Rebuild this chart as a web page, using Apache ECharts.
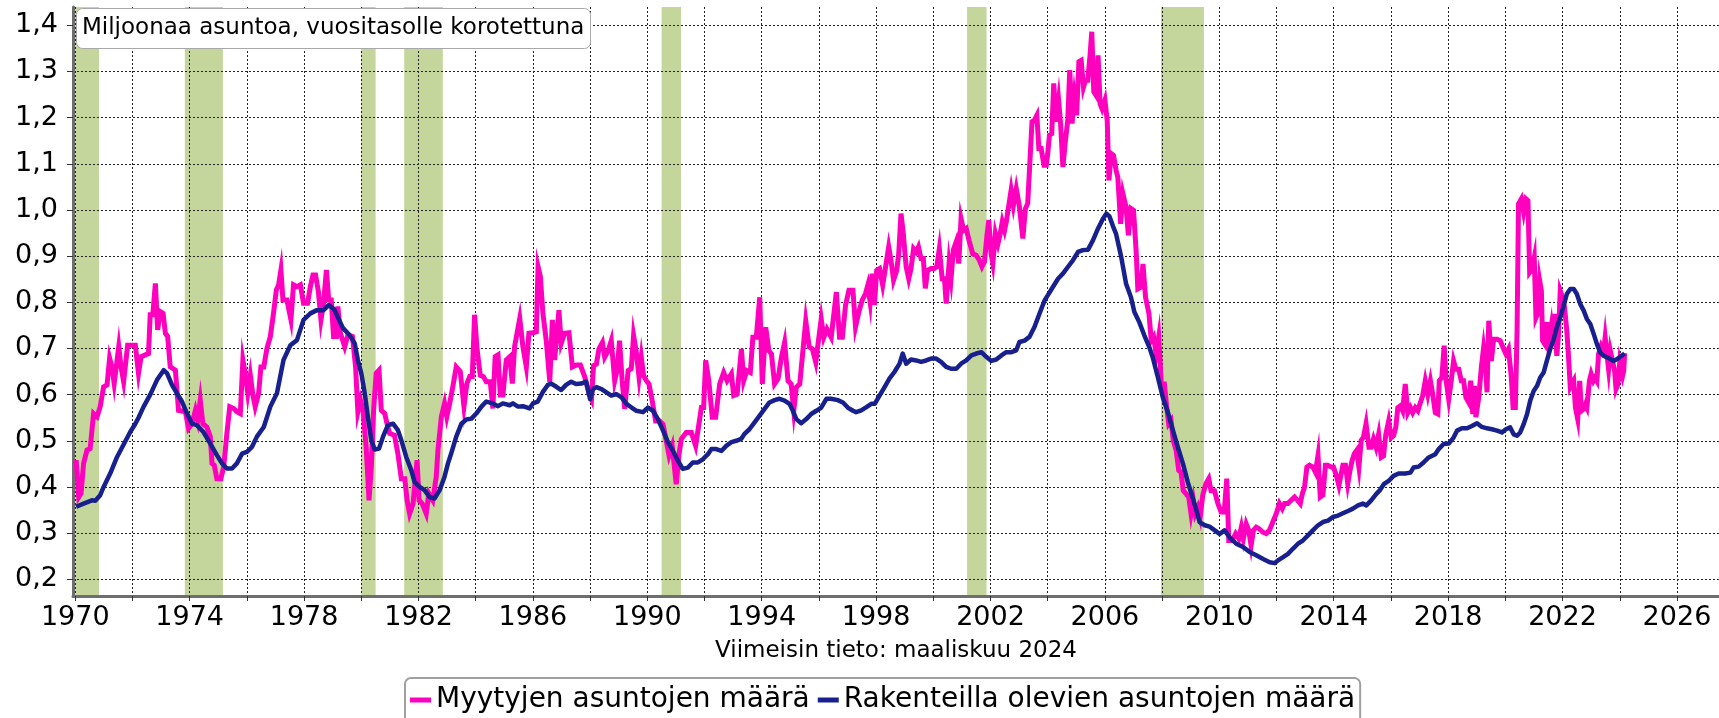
<!DOCTYPE html>
<html>
<head>
<meta charset="utf-8">
<script src="https://cdn.jsdelivr.net/npm/echarts@6/dist/echarts.min.js"></script>
<style>
html,body{margin:0;padding:0;background:#fff;}
#chart{width:1719px;height:718px;}
</style>
</head>
<body>
<div id="chart"></div>
<script>
// ---------- data ----------
const seriesNames = ['Myytyjen asuntojen määrä', 'Rakenteilla olevien asuntojen määrä'];
const titleText = 'Miljoonaa asuntoa, vuositasolle korotettuna';
const footText = 'Viimeisin tieto: maaliskuu 2024';

const yTickValues = [0.2, 0.3, 0.4, 0.5, 0.6, 0.7, 0.8, 0.9, 1.0, 1.1, 1.2, 1.3, 1.4];
const xTickYears = [1970, 1972, 1974, 1976, 1978, 1980, 1982, 1984, 1986, 1988, 1990, 1992, 1994, 1996, 1998,
  2000, 2002, 2004, 2006, 2008, 2010, 2012, 2014, 2016, 2018, 2020, 2022, 2024, 2026];
const xLabelYears = [1970, 1974, 1978, 1982, 1986, 1990, 1994, 1998, 2002, 2006, 2010, 2014, 2018, 2022, 2026];

const recessionStarts = [1970.0, 1973.83, 1980.0, 1981.5, 1990.5, 2001.18, 2007.96];
const recessionEnds   = [1970.83, 1975.16, 1980.5, 1982.85, 1991.18, 2001.86, 2009.46];

// Myytyjen asuntojen määrä (pink)
const salesYears = [
1970.03,1970.12,1970.20,1970.29,1970.41,1970.52,1970.64,1970.76,1970.87,1970.99,
1971.11,1971.20,1971.28,1971.36,1971.52,1971.60,1971.69,1971.83,1971.98,1972.10,
1972.21,1972.30,1972.45,1972.56,1972.62,1972.71,1972.80,1972.88,1972.97,1973.07,
1973.15,1973.23,1973.32,1973.50,1973.61,1973.85,1973.96,1974.08,1974.20,1974.28,
1974.37,1974.46,1974.60,1974.72,1974.78,1974.86,1974.95,1975.09,1975.19,1975.30,
1975.40,1975.54,1975.65,1975.77,1975.86,1975.94,1976.03,1976.12,1976.21,1976.29,
1976.41,1976.49,1976.59,1976.70,1976.82,1976.93,1977.03,1977.11,1977.19,1977.26,
1977.40,1977.54,1977.63,1977.75,1977.87,1977.98,1978.12,1978.22,1978.31,1978.40,
1978.50,1978.59,1978.68,1978.78,1978.86,1978.95,1979.03,1979.13,1979.18,1979.27,
1979.42,1979.53,1979.69,1979.80,1979.88,1979.97,1980.06,1980.17,1980.27,1980.35,
1980.43,1980.52,1980.62,1980.70,1980.82,1980.90,1980.99,1981.16,1981.28,1981.40,
1981.52,1981.60,1981.69,1981.81,1981.95,1982.02,1982.13,1982.27,1982.36,1982.50,
1982.62,1982.68,1982.80,1982.91,1982.99,1983.09,1983.20,1983.32,1983.46,1983.59,
1983.69,1983.79,1983.88,1983.96,1984.05,1984.16,1984.27,1984.37,1984.51,1984.60,
1984.68,1984.78,1984.86,1984.95,1985.07,1985.19,1985.28,1985.36,1985.54,1985.65,
1985.77,1985.86,1986.00,1986.12,1986.18,1986.26,1986.35,1986.47,1986.59,1986.68,
1986.76,1986.91,1986.99,1987.11,1987.26,1987.38,1987.52,1987.66,1987.81,1987.96,
1988.05,1988.12,1988.22,1988.31,1988.43,1988.51,1988.63,1988.74,1988.86,1988.94,
1989.03,1989.12,1989.21,1989.33,1989.44,1989.52,1989.61,1989.71,1989.79,1989.87,
1989.97,1990.06,1990.17,1990.29,1990.43,1990.55,1990.64,1990.76,1990.87,1991.01,
1991.11,1991.19,1991.36,1991.54,1991.69,1991.77,1991.89,1991.97,1992.04,1992.15,
1992.27,1992.39,1992.53,1992.67,1992.79,1992.94,1993.02,1993.14,1993.29,1993.37,
1993.48,1993.60,1993.69,1993.81,1993.93,1994.02,1994.14,1994.25,1994.34,1994.45,
1994.57,1994.69,1994.80,1994.92,1995.03,1995.12,1995.21,1995.33,1995.44,1995.54,
1995.66,1995.77,1995.89,1995.97,1996.08,1996.17,1996.28,1996.43,1996.61,1996.72,
1996.82,1996.93,1997.05,1997.19,1997.28,1997.40,1997.51,1997.63,1997.71,1997.79,
1997.86,1997.94,1998.02,1998.12,1998.23,1998.35,1998.44,1998.52,1998.61,1998.72,
1998.79,1998.87,1998.95,1999.05,1999.14,1999.22,1999.31,1999.40,1999.48,1999.57,
1999.65,1999.72,1999.80,1999.92,2000.03,2000.12,2000.21,2000.31,2000.39,2000.45,
2000.55,2000.62,2000.70,2000.80,2000.89,2000.97,2001.06,2001.15,2001.26,2001.38,
2001.50,2001.61,2001.70,2001.79,2001.87,2001.94,2002.02,2002.08,2002.17,2002.26,
2002.34,2002.41,2002.49,2002.55,2002.65,2002.72,2002.80,2002.90,2003.01,2003.13,
2003.22,2003.30,2003.38,2003.45,2003.53,2003.62,2003.69,2003.77,2003.87,2003.95,
2004.00,2004.06,2004.14,2004.21,2004.29,2004.38,2004.45,2004.53,2004.62,2004.70,
2004.77,2004.85,2004.93,2005.01,2005.09,2005.17,2005.25,2005.32,2005.40,2005.48,
2005.54,2005.61,2005.69,2005.76,2005.83,2005.90,2006.00,2006.08,2006.14,2006.22,
2006.30,2006.39,2006.45,2006.55,2006.63,2006.74,2006.82,2006.91,2007.00,2007.09,
2007.15,2007.27,2007.33,2007.42,2007.54,2007.62,2007.70,2007.79,2007.88,2007.97,
2008.08,2008.16,2008.23,2008.31,2008.39,2008.49,2008.58,2008.66,2008.74,2008.84,
2008.93,2009.01,2009.09,2009.16,2009.25,2009.33,2009.42,2009.53,2009.63,2009.71,
2009.83,2009.95,2010.06,2010.17,2010.26,2010.33,2010.45,2010.57,2010.68,2010.77,
2010.84,2010.94,2011.03,2011.11,2011.19,2011.29,2011.40,2011.52,2011.64,2011.75,
2011.87,2011.99,2012.10,2012.20,2012.28,2012.40,2012.51,2012.63,2012.74,2012.83,
2012.90,2012.98,2013.06,2013.15,2013.27,2013.36,2013.45,2013.53,2013.62,2013.71,
2013.79,2013.91,2013.99,2014.09,2014.18,2014.26,2014.32,2014.41,2014.49,2014.57,
2014.64,2014.72,2014.80,2014.88,2014.96,2015.04,2015.13,2015.23,2015.31,2015.39,
2015.48,2015.57,2015.66,2015.74,2015.82,2015.92,2016.01,2016.09,2016.17,2016.24,
2016.33,2016.41,2016.50,2016.59,2016.68,2016.76,2016.85,2016.94,2017.03,2017.11,
2017.20,2017.29,2017.38,2017.46,2017.55,2017.64,2017.69,2017.78,2017.86,2017.93,
2018.02,2018.10,2018.19,2018.27,2018.37,2018.46,2018.54,2018.62,2018.72,2018.79,
2018.86,2018.92,2018.97,2019.07,2019.16,2019.24,2019.30,2019.36,2019.42,2019.51,
2019.59,2019.71,2019.82,2019.94,2020.02,2020.11,2020.21,2020.27,2020.35,2020.41,
2020.46,2020.56,2020.64,2020.72,2020.79,2020.85,2020.93,2021.01,2021.07,2021.14,
2021.20,2021.26,2021.30,2021.37,2021.45,2021.51,2021.60,2021.65,2021.72,2021.80,
2021.86,2021.92,2022.00,2022.07,2022.15,2022.21,2022.27,2022.33,2022.39,2022.45,
2022.53,2022.60,2022.66,2022.74,2022.80,2022.85,2022.94,2023.00,2023.08,2023.14,
2023.20,2023.26,2023.35,2023.44,2023.49,2023.55,2023.61,2023.67,2023.73,2023.82,
2023.87,2023.94,2024.00,2024.06,2024.10,2024.14,2024.17
];
const salesValues = [
0.458,0.378,0.386,0.451,0.480,0.483,0.559,0.552,0.574,0.617,
0.621,0.679,0.660,0.624,0.704,0.660,0.628,0.707,0.707,0.707,
0.646,0.682,0.686,0.689,0.773,0.773,0.841,0.740,0.780,0.776,
0.733,0.726,0.660,0.653,0.566,0.563,0.527,0.537,0.566,0.545,
0.588,0.537,0.530,0.509,0.451,0.447,0.418,0.418,0.444,0.516,
0.574,0.570,0.563,0.559,0.675,0.646,0.603,0.642,0.599,0.574,
0.603,0.660,0.660,0.700,0.726,0.776,0.827,0.838,0.870,0.805,
0.805,0.762,0.838,0.834,0.838,0.798,0.798,0.834,0.859,0.859,
0.823,0.762,0.798,0.870,0.805,0.805,0.726,0.726,0.791,0.733,
0.704,0.729,0.726,0.660,0.563,0.588,0.566,0.487,0.371,0.444,
0.566,0.646,0.653,0.566,0.559,0.537,0.516,0.512,0.472,0.418,
0.418,0.371,0.342,0.364,0.458,0.371,0.364,0.342,0.386,0.371,
0.422,0.480,0.552,0.581,0.552,0.581,0.617,0.660,0.650,0.574,
0.624,0.639,0.639,0.773,0.697,0.642,0.639,0.628,0.628,0.570,
0.682,0.686,0.599,0.599,0.675,0.682,0.624,0.704,0.765,0.704,
0.660,0.733,0.734,0.736,0.877,0.856,0.776,0.715,0.628,0.762,
0.675,0.783,0.711,0.733,0.734,0.660,0.664,0.664,0.639,0.603,
0.590,0.663,0.666,0.699,0.713,0.681,0.695,0.717,0.630,0.652,
0.717,0.630,0.569,0.652,0.656,0.728,0.695,0.638,0.681,0.641,
0.630,0.623,0.587,0.543,0.543,0.536,0.507,0.468,0.489,0.406,
0.471,0.504,0.518,0.518,0.489,0.522,0.572,0.572,0.674,0.630,
0.551,0.551,0.623,0.648,0.630,0.645,0.598,0.601,0.699,0.630,
0.652,0.648,0.724,0.724,0.811,0.623,0.746,0.695,0.688,0.623,
0.634,0.681,0.713,0.630,0.623,0.565,0.616,0.623,0.695,0.760,
0.703,0.699,0.670,0.710,0.764,0.724,0.742,0.724,0.822,0.724,
0.724,0.793,0.826,0.826,0.747,0.780,0.804,0.819,0.837,0.801,
0.862,0.794,0.869,0.873,0.837,0.884,0.920,0.891,0.848,0.869,
0.905,0.992,0.949,0.877,0.851,0.873,0.916,0.909,0.920,0.895,
0.895,0.830,0.869,0.873,0.873,0.877,0.916,0.851,0.851,0.797,
0.884,0.851,0.913,0.931,0.884,0.981,0.956,0.960,0.931,0.905,
0.902,0.891,0.877,0.888,0.942,0.978,0.905,0.884,0.949,0.927,
0.949,0.974,0.956,0.974,1.014,1.043,1.010,1.046,1.007,0.938,
1.003,1.014,1.108,1.191,1.194,1.205,1.133,1.133,1.097,1.097,
1.122,1.162,1.165,1.274,1.191,1.238,1.187,1.093,1.151,1.194,
1.303,1.187,1.245,1.205,1.321,1.324,1.266,1.281,1.281,1.335,
1.386,1.256,1.248,1.335,1.230,1.219,1.238,1.194,1.064,1.122,
1.118,1.086,1.071,0.970,1.035,1.006,0.945,1.003,0.999,0.912,
0.829,0.833,0.883,0.811,0.775,0.717,0.725,0.688,0.725,0.623,
0.623,0.573,0.537,0.544,0.501,0.479,0.436,0.432,0.392,0.385,
0.378,0.342,0.371,0.342,0.356,0.335,0.382,0.407,0.418,0.392,
0.392,0.364,0.346,0.346,0.418,0.284,0.284,0.299,0.288,0.313,
0.288,0.320,0.306,0.273,0.306,0.313,0.309,0.302,0.299,0.306,
0.324,0.342,0.364,0.353,0.364,0.364,0.371,0.378,0.371,0.364,
0.385,0.400,0.443,0.447,0.443,0.432,0.468,0.378,0.382,0.447,
0.447,0.443,0.443,0.425,0.403,0.428,0.447,0.447,0.407,0.436,
0.457,0.472,0.479,0.443,0.501,0.508,0.537,0.486,0.486,0.504,
0.486,0.514,0.464,0.467,0.514,0.543,0.507,0.511,0.529,0.572,
0.576,0.565,0.623,0.561,0.572,0.561,0.572,0.565,0.583,0.598,
0.630,0.601,0.630,0.601,0.561,0.558,0.630,0.637,0.706,0.630,
0.590,0.626,0.673,0.655,0.655,0.630,0.630,0.594,0.583,0.630,
0.558,0.619,0.551,0.594,0.659,0.702,0.673,0.605,0.760,0.673,
0.720,0.720,0.717,0.699,0.688,0.699,0.637,0.572,0.572,0.738,
1.013,1.024,0.995,1.024,1.020,0.865,0.872,0.897,0.767,0.778,
0.847,0.825,0.717,0.710,0.757,0.710,0.746,0.710,0.775,0.684,
0.731,0.825,0.811,0.789,0.738,0.681,0.616,0.616,0.630,0.572,
0.547,0.630,0.565,0.569,0.579,0.572,0.630,0.645,0.630,0.637,
0.630,0.688,0.706,0.695,0.724,0.688,0.655,0.695,0.695,0.652,
0.612,0.623,0.670,0.670,0.641,0.652,0.690
];

// Rakenteilla olevien asuntojen määrä (navy)
const buildYears = [
1970.03,1970.29,1970.58,1970.70,1970.87,1970.99,1971.22,1971.46,1971.69,1971.92,
1972.10,1972.21,1972.39,1972.62,1972.86,1973.09,1973.21,1973.38,1973.55,1973.73,
1973.90,1974.08,1974.25,1974.48,1974.72,1974.95,1975.13,1975.30,1975.48,1975.65,
1975.83,1976.00,1976.18,1976.35,1976.59,1976.82,1977.05,1977.28,1977.52,1977.75,
1977.98,1978.22,1978.45,1978.68,1978.86,1979.05,1979.20,1979.36,1979.59,1979.77,
1979.88,1980.00,1980.12,1980.23,1980.35,1980.47,1980.62,1980.76,1980.93,1981.11,
1981.28,1981.40,1981.57,1981.75,1981.86,1982.04,1982.21,1982.39,1982.56,1982.74,
1982.91,1983.03,1983.14,1983.32,1983.50,1983.67,1983.85,1984.02,1984.20,1984.37,
1984.60,1984.78,1984.95,1985.19,1985.30,1985.48,1985.65,1985.88,1986.00,1986.17,
1986.35,1986.52,1986.64,1986.82,1986.99,1987.16,1987.34,1987.51,1987.69,1987.86,
1988.00,1988.10,1988.22,1988.40,1988.57,1988.74,1988.92,1989.10,1989.27,1989.45,
1989.62,1989.85,1990.02,1990.20,1990.37,1990.55,1990.72,1990.90,1991.07,1991.24,
1991.42,1991.59,1991.77,1991.94,1992.12,1992.24,1992.41,1992.59,1992.76,1992.94,
1993.11,1993.28,1993.40,1993.57,1993.75,1993.92,1994.10,1994.27,1994.45,1994.62,
1994.80,1994.97,1995.09,1995.21,1995.38,1995.56,1995.73,1995.91,1996.08,1996.26,
1996.43,1996.66,1996.84,1997.01,1997.19,1997.30,1997.48,1997.66,1997.83,1997.95,
1998.12,1998.30,1998.47,1998.64,1998.82,1998.93,1999.05,1999.22,1999.40,1999.57,
1999.75,1999.92,2000.10,2000.27,2000.45,2000.62,2000.80,2000.97,2001.15,2001.33,
2001.50,2001.68,2001.85,2002.03,2002.20,2002.38,2002.55,2002.73,2002.90,2003.01,
2003.19,2003.36,2003.54,2003.71,2003.89,2004.00,2004.18,2004.36,2004.53,2004.71,
2004.88,2005.06,2005.23,2005.41,2005.58,2005.76,2005.93,2006.05,2006.16,2006.28,
2006.39,2006.57,2006.74,2006.91,2007.03,2007.20,2007.38,2007.55,2007.67,2007.85,
2008.02,2008.20,2008.38,2008.55,2008.73,2008.90,2009.08,2009.20,2009.31,2009.49,
2009.66,2009.84,2010.01,2010.18,2010.36,2010.59,2010.83,2011.06,2011.29,2011.53,
2011.76,2011.94,2012.05,2012.23,2012.40,2012.57,2012.75,2012.92,2013.10,2013.27,
2013.45,2013.62,2013.80,2013.97,2014.15,2014.32,2014.50,2014.67,2014.85,2015.02,
2015.14,2015.31,2015.49,2015.60,2015.75,2015.92,2016.09,2016.27,2016.50,2016.68,
2016.79,2016.97,2017.14,2017.32,2017.55,2017.67,2017.84,2018.02,2018.19,2018.31,
2018.48,2018.66,2018.83,2019.01,2019.18,2019.36,2019.53,2019.71,2019.88,2020.02,
2020.17,2020.29,2020.41,2020.52,2020.64,2020.76,2020.87,2020.99,2021.11,2021.22,
2021.34,2021.45,2021.57,2021.69,2021.80,2021.92,2022.04,2022.15,2022.27,2022.39,
2022.50,2022.62,2022.74,2022.85,2022.97,2023.09,2023.20,2023.32,2023.44,2023.55,
2023.67,2023.79,2023.90,2024.02,2024.17
];
const buildValues = [
0.357,0.364,0.371,0.370,0.382,0.400,0.429,0.465,0.492,0.519,
0.537,0.550,0.574,0.600,0.632,0.653,0.646,0.621,0.603,0.585,
0.560,0.537,0.534,0.519,0.494,0.469,0.451,0.440,0.440,0.451,
0.472,0.476,0.487,0.509,0.530,0.574,0.603,0.675,0.707,0.718,
0.762,0.776,0.783,0.783,0.794,0.785,0.765,0.744,0.729,0.711,
0.675,0.646,0.603,0.552,0.501,0.481,0.483,0.509,0.534,0.537,
0.523,0.501,0.465,0.436,0.411,0.400,0.393,0.378,0.375,0.393,
0.422,0.451,0.472,0.509,0.537,0.546,0.548,0.559,0.574,0.585,
0.581,0.575,0.581,0.577,0.581,0.574,0.575,0.570,0.581,0.585,
0.606,0.621,0.624,0.617,0.610,0.621,0.628,0.623,0.624,0.628,
0.590,0.612,0.616,0.612,0.605,0.598,0.601,0.594,0.580,0.572,
0.565,0.562,0.572,0.565,0.547,0.522,0.497,0.478,0.457,0.439,
0.442,0.453,0.453,0.460,0.471,0.482,0.482,0.478,0.489,0.497,
0.500,0.504,0.515,0.525,0.540,0.554,0.569,0.583,0.588,0.591,
0.587,0.580,0.565,0.547,0.538,0.547,0.558,0.565,0.572,0.591,
0.591,0.588,0.583,0.572,0.565,0.562,0.566,0.573,0.580,0.580,
0.598,0.617,0.635,0.649,0.667,0.689,0.667,0.676,0.674,0.671,
0.674,0.678,0.678,0.671,0.660,0.656,0.656,0.667,0.674,0.685,
0.689,0.692,0.682,0.673,0.676,0.685,0.692,0.692,0.696,0.714,
0.717,0.725,0.747,0.775,0.804,0.815,0.833,0.851,0.862,0.877,
0.891,0.909,0.913,0.914,0.934,0.960,0.981,0.992,0.986,0.965,
0.948,0.898,0.840,0.811,0.779,0.757,0.728,0.703,0.681,0.638,
0.595,0.562,0.522,0.486,0.450,0.410,0.374,0.349,0.324,0.317,
0.314,0.306,0.298,0.306,0.291,0.277,0.270,0.259,0.252,0.244,
0.237,0.235,0.241,0.248,0.255,0.266,0.277,0.284,0.295,0.306,
0.317,0.324,0.327,0.335,0.338,0.343,0.348,0.353,0.360,0.364,
0.360,0.371,0.385,0.392,0.406,0.413,0.424,0.429,0.429,0.431,
0.442,0.444,0.453,0.464,0.471,0.482,0.493,0.494,0.507,0.522,
0.527,0.527,0.532,0.538,0.530,0.527,0.525,0.522,0.518,0.525,
0.529,0.514,0.511,0.518,0.536,0.558,0.587,0.608,0.619,0.637,
0.648,0.673,0.699,0.720,0.746,0.767,0.793,0.818,0.829,0.829,
0.818,0.796,0.782,0.764,0.753,0.731,0.710,0.691,0.684,0.681,
0.677,0.673,0.677,0.682,0.689
];

// ---------- chart ----------
const PINK = '#ff00bf';
const NAVY = '#17208c';
const BAND = '#c4d69b';
const FONT = 'DejaVu Sans';

const toPairs = (xs, ys) => xs.map((x, i) => [x, ys[i]]);

const chart = echarts.init(document.getElementById('chart'), null, {renderer: 'canvas'});
const gridLine = {show: true, lineStyle: {color: '#222', width: 1, type: [2, 2]}};

chart.setOption({
  animation: false,
  backgroundColor: '#fff',
  textStyle: {fontFamily: FONT},
  title: {
    text: titleText,
    left: 76, top: 8,
    padding: [9, 6, 9, 6],
    backgroundColor: '#fff',
    borderColor: '#a8a8a8', borderWidth: 1, borderRadius: 6,
    textStyle: {fontFamily: FONT, fontSize: 23, fontWeight: 'normal', color: '#000'}
  },
  legend: {
    data: seriesNames,
    left: 405, top: 678,
    icon: 'rect', itemWidth: 21, itemHeight: 5, itemGap: 8,
    padding: [8, 5, 20, 5],
    backgroundColor: '#fff',
    borderColor: '#a0a0a0', borderWidth: 2, borderRadius: 6,
    textStyle: {fontFamily: FONT, fontSize: 28, color: '#000'}
  },
  grid: {left: 73, right: 0, top: 7, bottom: 122, containLabel: false},
  xAxis: {
    type: 'value', min: 1969.92, max: 2027.47, z: 1.5,
    name: footText, nameLocation: 'middle', nameGap: 44,
    nameTextStyle: {fontFamily: FONT, fontSize: 23, color: '#000'},
    axisLine: {show: true, onZero: false, lineStyle: {color: '#6e6e6e', width: 3}},
    axisTick: {show: true, customValues: xTickYears, length: 5, lineStyle: {color: '#333', width: 1}},
    axisLabel: {customValues: xLabelYears, formatter: v => String(Math.round(v)),
      fontFamily: FONT, fontSize: 27, color: '#000', margin: 8},
    splitLine: gridLine
  },
  yAxis: {
    type: 'value', min: 0.1638, max: 1.4396, z: 1.5,
    axisLine: {show: true, lineStyle: {color: '#6e6e6e', width: 3}},
    axisTick: {show: true, customValues: yTickValues, length: 6, lineStyle: {color: '#333', width: 1}},
    axisLabel: {customValues: yTickValues, formatter: v => v.toFixed(1).replace('.', ','),
      fontFamily: FONT, fontSize: 27, color: '#000', margin: 15},
    splitLine: gridLine
  },
  series: [
    {
      name: seriesNames[0], type: 'line', data: toPairs(salesYears, salesValues),
      symbol: 'none', showSymbol: false, z: 3,
      lineStyle: {color: PINK, width: 5, join: 'miter'}, itemStyle: {color: PINK},
      markArea: {
        silent: true, z: 1,
        itemStyle: {color: BAND, opacity: 1},
        data: recessionStarts.map((s, i) => [{xAxis: s}, {xAxis: recessionEnds[i]}])
      }
    },
    {
      name: seriesNames[1], type: 'line', data: toPairs(buildYears, buildValues),
      symbol: 'none', showSymbol: false, z: 4,
      lineStyle: {color: NAVY, width: 4.5, join: 'round'}, itemStyle: {color: NAVY}
    }
  ]
});
</script>
</body>
</html>
